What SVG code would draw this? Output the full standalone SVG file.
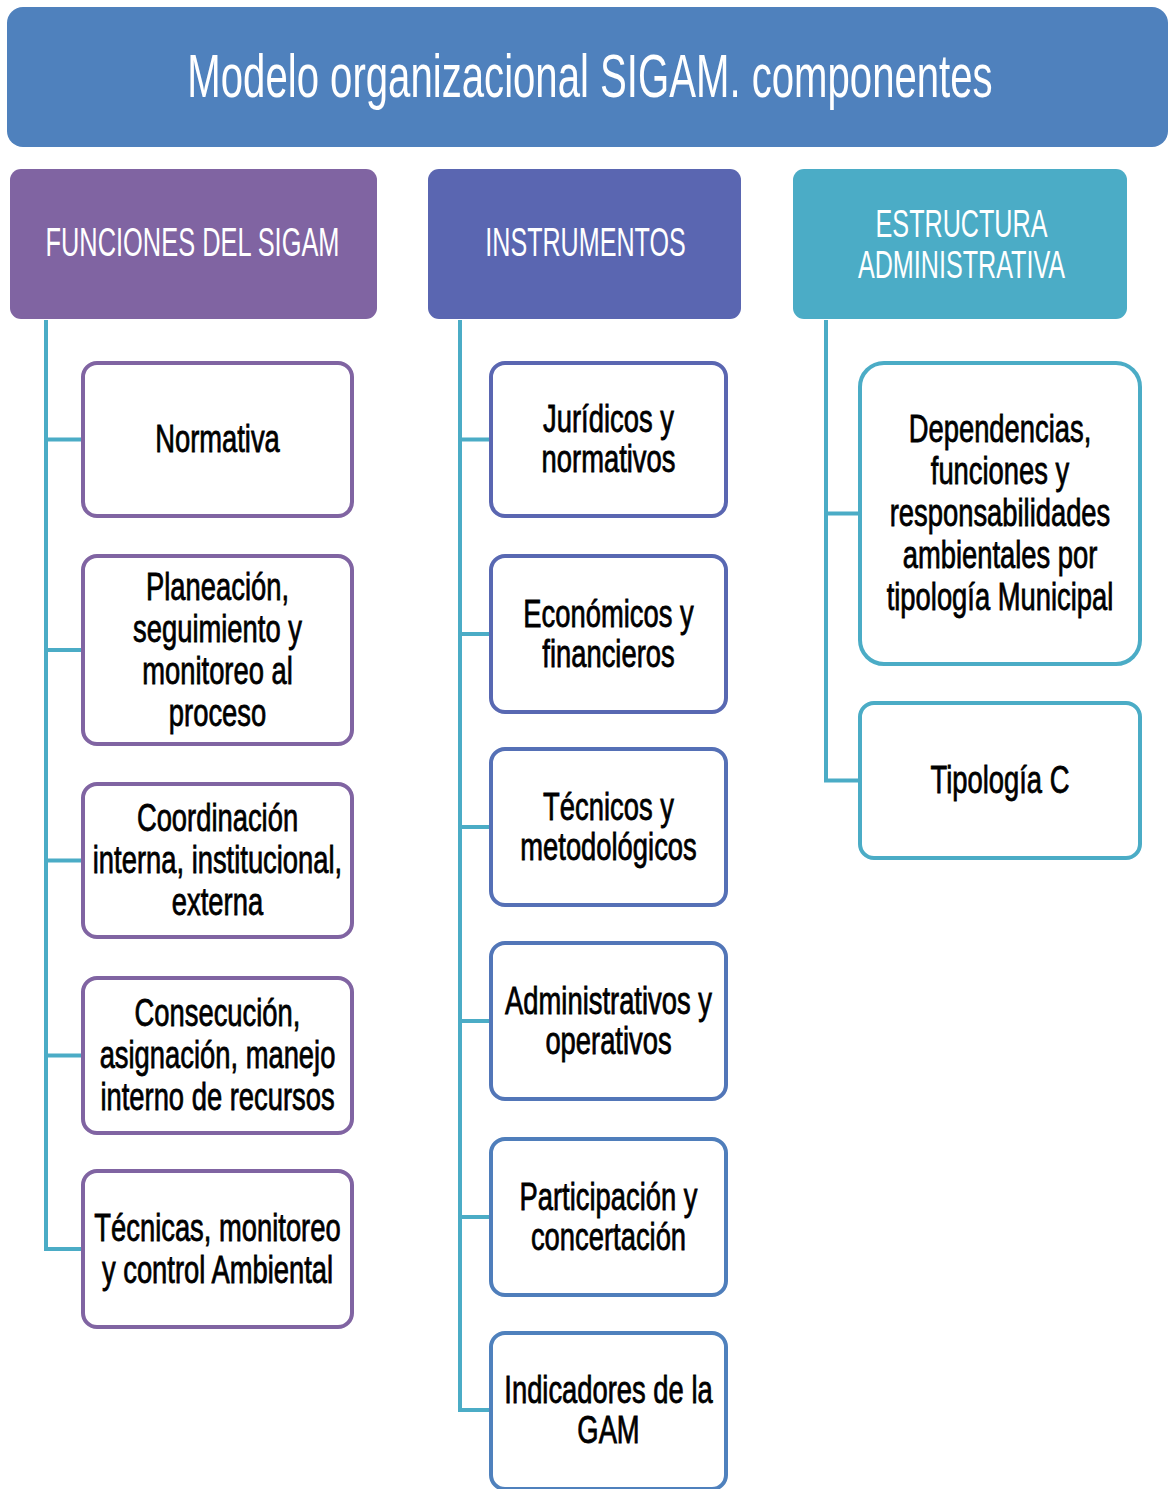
<svg xmlns="http://www.w3.org/2000/svg" width="1169" height="1489" viewBox="0 0 1169 1489">
<style>
.hd{font-family:"Liberation Sans",Arial,sans-serif;fill:#fff;text-anchor:middle}
.bx{fill:#fff;stroke-width:4}
.tx{font-family:"Liberation Sans",Arial,sans-serif;font-size:38px;fill:#000;stroke:#000;stroke-width:0.8;text-anchor:middle}
.cn{fill:none;stroke:#4BACC6;stroke-width:4;stroke-linejoin:miter}
</style>
<rect width="1169" height="1489" fill="#fff"/>
<g id="title">
<rect x="7" y="7" width="1161" height="140" rx="16" fill="#4F81BD"/>
<text class="hd" font-size="61" transform="translate(590,0) scale(0.658,1)"><tspan x="0" y="97">Modelo organizacional SIGAM. componentes</tspan></text>
</g>
<g id="connectors">
<path class="cn" d="M46 320 V1249 H82 M46 439.5 H82 M46 650 H82 M46 860.5 H82 M46 1055.5 H82"/>
<path class="cn" d="M460 320 V1410 H490 M460 439.5 H490 M460 634 H490 M460 827 H490 M460 1021 H490 M460 1217 H490"/>
<path class="cn" d="M826 320 V780.5 H859 M826 513.5 H859"/>
</g>
<g id="h-funciones">
<rect x="10" y="169" width="367" height="150" rx="11" fill="#8064A2"/>
<text class="hd" font-size="40" transform="translate(192.5,0) scale(0.635,1)"><tspan x="0" y="256">FUNCIONES DEL SIGAM</tspan></text>
</g>
<g id="h-instrumentos">
<rect x="428" y="169" width="313" height="150" rx="11" fill="#5A66B1"/>
<text class="hd" font-size="40" transform="translate(585.5,0) scale(0.628,1)"><tspan x="0" y="256">INSTRUMENTOS</tspan></text>
</g>
<g id="h-estructura">
<rect x="793" y="169" width="334" height="150" rx="11" fill="#4BACC6"/>
<text class="hd" font-size="39" transform="translate(961.5,0) scale(0.645,1)"><tspan x="0" y="237">ESTRUCTURA</tspan><tspan x="0" y="278">ADMINISTRATIVA</tspan></text>
</g>
<g id="f1"><rect class="bx" x="83" y="363" width="269" height="153" rx="14" stroke="#8064A2"/>
<text class="tx" transform="translate(217.5,0) scale(0.72,1)"><tspan x="0" y="452.5">Normativa</tspan></text></g>
<g id="f2"><rect class="bx" x="83" y="556" width="269" height="188" rx="14" stroke="#8064A2"/>
<text class="tx" transform="translate(217.5,0) scale(0.72,1)"><tspan x="0" y="600">Planeación,</tspan><tspan x="0" y="642">seguimiento y</tspan><tspan x="0" y="684">monitoreo al</tspan><tspan x="0" y="726">proceso</tspan></text></g>
<g id="f3"><rect class="bx" x="83" y="784" width="269" height="153" rx="14" stroke="#8064A2"/>
<text class="tx" transform="translate(217.5,0) scale(0.72,1)"><tspan x="0" y="831.5">Coordinación</tspan><tspan x="0" y="873.5">interna, institucional,</tspan><tspan x="0" y="915.5">externa</tspan></text></g>
<g id="f4"><rect class="bx" x="83" y="978" width="269" height="155" rx="14" stroke="#8064A2"/>
<text class="tx" transform="translate(217.5,0) scale(0.72,1)"><tspan x="0" y="1026.5">Consecución,</tspan><tspan x="0" y="1068.5">asignación, manejo</tspan><tspan x="0" y="1110.5">interno de recursos</tspan></text></g>
<g id="f5"><rect class="bx" x="83" y="1171" width="269" height="156" rx="14" stroke="#8064A2"/>
<text class="tx" transform="translate(217.5,0) scale(0.72,1)"><tspan x="0" y="1241">Técnicas, monitoreo</tspan><tspan x="0" y="1283">y control Ambiental</tspan></text></g>
<g id="i1"><rect class="bx" x="491" y="363" width="235" height="153" rx="14" stroke="#5A66B1"/>
<text class="tx" transform="translate(608.5,0) scale(0.72,1)"><tspan x="0" y="432.5">Jurídicos y</tspan><tspan x="0" y="472.5">normativos</tspan></text></g>
<g id="i2"><rect class="bx" x="491" y="556" width="235" height="156" rx="14" stroke="#5868B2"/>
<text class="tx" transform="translate(608.5,0) scale(0.72,1)"><tspan x="0" y="627">Económicos y</tspan><tspan x="0" y="667">financieros</tspan></text></g>
<g id="i3"><rect class="bx" x="491" y="749" width="235" height="156" rx="14" stroke="#5570B6"/>
<text class="tx" transform="translate(608.5,0) scale(0.72,1)"><tspan x="0" y="820">Técnicos y</tspan><tspan x="0" y="860">metodológicos</tspan></text></g>
<g id="i4"><rect class="bx" x="491" y="943" width="235" height="156" rx="14" stroke="#5276B8"/>
<text class="tx" transform="translate(608.5,0) scale(0.72,1)"><tspan x="0" y="1014">Administrativos y</tspan><tspan x="0" y="1054">operativos</tspan></text></g>
<g id="i5"><rect class="bx" x="491" y="1139" width="235" height="156" rx="14" stroke="#4F7EBB"/>
<text class="tx" transform="translate(608.5,0) scale(0.72,1)"><tspan x="0" y="1210">Participación y</tspan><tspan x="0" y="1250">concertación</tspan></text></g>
<g id="i6"><rect class="bx" x="491" y="1333" width="235" height="156" rx="14" stroke="#4F81BD"/>
<text class="tx" transform="translate(608.5,0) scale(0.72,1)"><tspan x="0" y="1403">Indicadores de la</tspan><tspan x="0" y="1443">GAM</tspan></text></g>
<g id="e1"><rect class="bx" x="860" y="363" width="280" height="301" rx="24" stroke="#4BACC6"/>
<text class="tx" transform="translate(1000,0) scale(0.72,1)"><tspan x="0" y="442.5">Dependencias,</tspan><tspan x="0" y="484.5">funciones y</tspan><tspan x="0" y="526.5">responsabilidades</tspan><tspan x="0" y="568.5">ambientales por</tspan><tspan x="0" y="610.5">tipología Municipal</tspan></text></g>
<g id="e2"><rect class="bx" x="860" y="703" width="280" height="155" rx="14" stroke="#4BACC6"/>
<text class="tx" transform="translate(1000,0) scale(0.72,1)"><tspan x="0" y="793.5">Tipología C</tspan></text></g>
</svg>
